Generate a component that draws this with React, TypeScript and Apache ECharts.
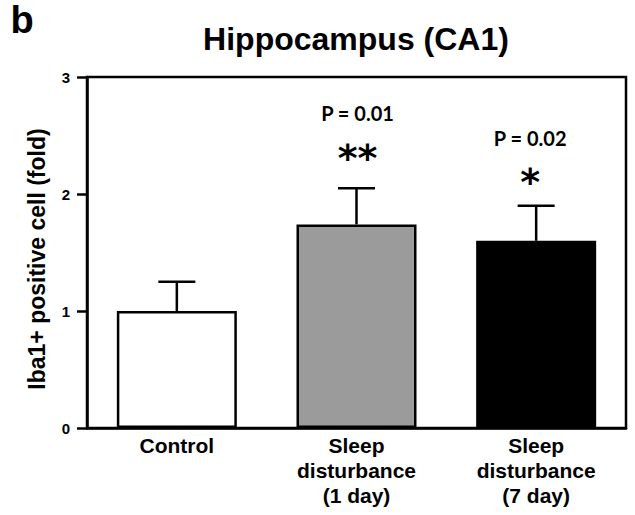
import React, { useEffect, useRef } from 'react';
import * as echarts from 'echarts';

const categories = ['Control', 'Sleep\ndisturbance\n(1 day)', 'Sleep\ndisturbance\n(7 day)'];
const means = [1.0, 1.74, 1.6];
const errorTops = [1.25, 2.05, 1.9];
const barColors = ['#ffffff', '#9b9b9b', '#000000'];
const yMin = 0;
const yMax = 3;
const yStep = 1;
const annotCats = [1, 2];
const pTexts = ['P = 0.01', 'P = 0.02'];
const pLevels = [2.69, 2.48];
const starTexts = ['**', '*'];
const starLevels = [2.31, 2.1];
const annotDx = [1, -6];

const titleText = 'Hippocampus (CA1)';
const panelLetter = 'b';
const yAxisTitle = 'Iba1+ positive cell (fold)';

export default function App() {
  const ref = useRef<HTMLDivElement>(null);
  useEffect(() => {
    if (!ref.current) return;
    const chart = echarts.init(ref.current, undefined, { renderer: 'svg' });
    const ARIAL = '"Liberation Sans", Arial, sans-serif';
    const option: any = {
      animation: false,
      backgroundColor: '#ffffff',
      grid: {
        left: 87,
        right: 9,
        top: 77,
        bottom: 87,
        show: true,
        borderColor: '#000',
        borderWidth: 2.5,
        backgroundColor: 'transparent',
      },
      xAxis: {
        type: 'category',
        data: categories,
        axisLine: { show: true, lineStyle: { color: '#000', width: 2.5 } },
        axisTick: { show: false },
        axisLabel: {
          color: '#000',
          fontFamily: ARIAL,
          fontWeight: 'bold',
          fontSize: 21,
          lineHeight: 25,
          margin: 5,
          interval: 0,
        },
        splitLine: { show: false },
      },
      yAxis: {
        type: 'value',
        min: yMin,
        max: yMax,
        interval: yStep,
        axisLine: { show: true, lineStyle: { color: '#000', width: 2.5 } },
        axisTick: { show: true, length: 10, inside: false, lineStyle: { color: '#000', width: 2.5 } },
        axisLabel: {
          color: '#000',
          fontFamily: ARIAL,
          fontWeight: 'bold',
          fontSize: 15,
          margin: 17,
        },
        splitLine: { show: false },
      },
      graphic: [
        {
          type: 'text',
          x: 22,
          y: 20,
          style: {
            text: panelLetter,
            font: `bold 38px ${ARIAL}`,
            fill: '#000',
            align: 'center',
            verticalAlign: 'middle',
          },
        },
        {
          type: 'text',
          x: 356,
          y: 39,
          style: {
            text: titleText,
            font: `bold 32px ${ARIAL}`,
            fill: '#000',
            align: 'center',
            verticalAlign: 'middle',
          },
        },
        {
          type: 'text',
          x: 37,
          y: 259,
          rotation: Math.PI / 2,
          style: {
            text: yAxisTitle,
            font: `bold 23px ${ARIAL}`,
            fill: '#000',
            align: 'center',
            verticalAlign: 'middle',
          },
        },
      ],
      series: [
        {
          type: 'bar',
          barWidth: 120,
          data: means.map((v, i) => ({
            value: v,
            itemStyle: { color: barColors[i], borderColor: '#000', borderWidth: 2.5 },
          })),
          z: 2,
        },
        {
          type: 'custom',
          z: 3,
          data: means.map((v, i) => [i, v, errorTops[i]]),
          renderItem: (params: any, api: any) => {
            const x = api.value(0);
            const p1 = api.coord([x, api.value(1)]);
            const p2 = api.coord([x, api.value(2)]);
            const half = 18.5;
            const style = { stroke: '#000', lineWidth: 2.5 };
            return {
              type: 'group',
              children: [
                { type: 'line', shape: { x1: p1[0], y1: p1[1], x2: p2[0], y2: p2[1] }, style },
                { type: 'line', shape: { x1: p2[0] - half, y1: p2[1], x2: p2[0] + half, y2: p2[1] }, style },
              ],
            };
          },
        },
        {
          type: 'custom',
          z: 4,
          data: annotCats.map((c, i) => [c, pLevels[i], starLevels[i]]),
          renderItem: (params: any, api: any) => {
            const i = params.dataIndex;
            const x = api.value(0);
            const pP = api.coord([x, api.value(1)]);
            const pS = api.coord([x, api.value(2)]);
            return {
              type: 'group',
              children: [
                {
                  type: 'text',
                  x: pP[0] + annotDx[i],
                  y: pP[1],
                  style: {
                    text: pTexts[i],
                    font: 'bold 20px Lato, "Open Sans", sans-serif',
                    fill: '#000',
                    align: 'center',
                    verticalAlign: 'middle',
                  },
                },
                {
                  type: 'text',
                  x: pS[0] + annotDx[i],
                  y: pS[1],
                  style: {
                    text: starTexts[i],
                    font: 'bold 38px "DejaVu Sans", sans-serif',
                    fill: '#000',
                    align: 'center',
                    verticalAlign: 'middle',
                  },
                },
              ],
            };
          },
        },
      ],
    };
    chart.setOption(option);
    return () => chart.dispose();
  }, []);
  return (
    <div
      ref={ref}
      style={{ position: 'fixed', left: 0, top: 0, width: 635, height: 515, background: '#fff' }}
    />
  );
}
